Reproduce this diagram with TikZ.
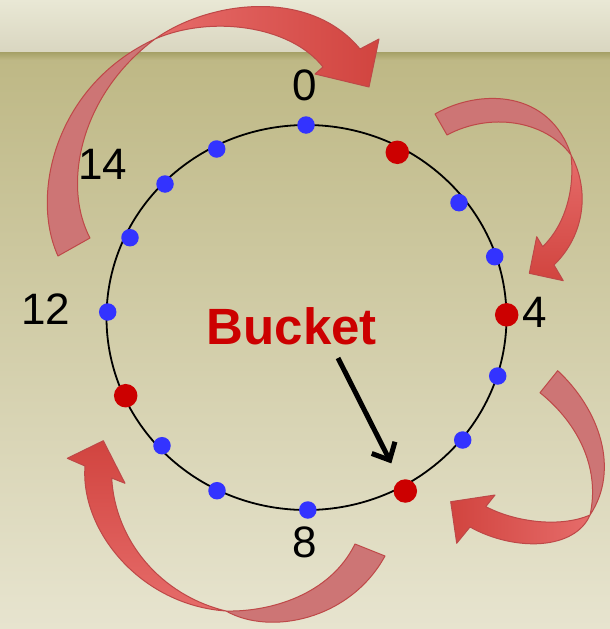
\documentclass[tikz,border=0pt]{standalone}
\usepackage{fontspec}
\setmainfont{Liberation Sans}
\usetikzlibrary{arrows.meta}
\definecolor{bgA}{RGB}{233,232,213}
\definecolor{bgB}{RGB}{217,214,192}
\definecolor{bandC}{RGB}{165,160,102}
\definecolor{bgC}{RGB}{190,184,133}
\definecolor{bgD}{RGB}{231,228,207}
\definecolor{dotblue}{RGB}{51,51,255}
\definecolor{dotred}{RGB}{204,0,0}
\definecolor{tailpink}{RGB}{205,117,117}
\definecolor{headlight}{RGB}{230,108,106}
\definecolor{headdark}{RGB}{209,68,63}
\definecolor{ribbonedge}{RGB}{190,72,72}
\tikzset{
  bdot/.style={circle, fill=dotblue, minimum size=17.5pt, inner sep=0pt},
  rdot/.style={circle, fill=dotred, minimum size=23.5pt, inner sep=0pt},
  lbl/.style={font=\fontsize{44}{50}\selectfont, inner sep=0pt},
  tailpart/.style={fill=tailpink, draw=ribbonedge, line width=1pt, line join=round},
  headpart/.style={draw=ribbonedge, line width=1pt, line join=round},
}
\begin{document}
\begin{tikzpicture}[x=1pt,y=-1pt]
\useasboundingbox (0,0) rectangle (610,629);
% background
\shade[top color=bgA, bottom color=bgB] (0,0) rectangle (610,53);
\shade[top color=bgC, bottom color=bgD] (0,57) rectangle (610,629);
\shade[top color=bandC, bottom color=bgC] (0,52) rectangle (610,60);
% ring
\draw[line width=1.8pt] (306.5,317.5) ellipse [x radius=200, y radius=192.5];
% dots
\node[bdot] (d0) at (306,125) {};
\node[rdot] (d1) at (397.3,152.3) {};
\node[bdot] (d2) at (459,202.7) {};
\node[bdot] (d3) at (494.7,256.7) {};
\node[rdot] (d4) at (506.7,314.8) {};
\node[bdot] (d5) at (497.7,376) {};
\node[bdot] (d6) at (462.7,440) {};
\node[rdot] (d7) at (405.3,491) {};
\node[bdot] (d8) at (307.8,510) {};
\node[bdot] (d9) at (217,490.7) {};
\node[bdot] (d10) at (162,445.7) {};
\node[rdot] (d11) at (125.7,395.7) {};
\node[bdot] (d12) at (107.7,312) {};
\node[bdot] (d13) at (130,237.7) {};
\node[bdot] (d14) at (165,184) {};
\node[bdot] (d15) at (216.7,149) {};
% arrow A (top-left)
\draw[tailpart] (155,39) .. controls (55,85) and (30,195) .. (58,256) -- (90,238)
  .. controls (62,185) and (80,95) .. (155,39) -- cycle;
\draw[headpart, left color=headlight, right color=headdark] (155,39) .. controls (210,0) and (310,-12) .. (360,49)
  -- (379,39) -- (369,87) -- (315,74) -- (323,67)
  .. controls (290,25) and (210,15) .. (155,39) -- cycle;
% arrow B (top-right)
\draw[tailpart] (435,114) .. controls (480,88) and (550,90) .. (571,155)
  .. controls (545,120) and (490,112) .. (447,135) -- cycle;
\draw[headpart, top color=headlight, bottom color=headdark] (571,155) .. controls (590,190) and (585,235) .. (554,265)
  -- (563.3,280.7) -- (529.3,273.3) -- (536.7,236.7) -- (542.7,246.7)
  .. controls (565,225) and (575,190) .. (571,155) -- cycle;
% arrow C (bottom-right)
\draw[tailpart] (557.7,370.7) .. controls (600,410) and (620,470) .. (590,515)
  .. controls (600,470) and (580,425) .. (540,392.7) -- cycle;
\draw[headpart, right color=headlight, left color=headdark] (590,515) .. controls (575,550) and (515,552) .. (470,527)
  -- (456.7,543.3) -- (450.7,501.7) -- (495,495) -- (485.8,506.6)
  .. controls (515,522) and (560,528) .. (590,515) -- cycle;
% arrow D (bottom-left)
\draw[tailpart] (226,611) .. controls (270,636) and (350,620) .. (385,556) -- (355,544)
  .. controls (330,595) and (270,612) .. (226,611) -- cycle;
\draw[headpart, bottom color=headlight, top color=headdark] (226,611) .. controls (140,605) and (80,530) .. (85,466)
  -- (67.3,458.3) -- (103.3,440.7) -- (125,483.3) -- (111.7,478)
  .. controls (115,540) and (160,595) .. (226,611) -- cycle;
% labels
\node[lbl] (l0) at (304.5,85) {0};
\node[lbl] (l14) at (102.5,164.5) {14};
\node[lbl] (l12) at (45.5,309.5) {12};
\node[lbl] (l4) at (535,312) {4};
\node[lbl] (l8) at (305,542.5) {8};
\node[font=\fontsize{51}{58}\selectfont\bfseries, text=dotred, inner sep=0pt] (bucket) at (291.7,326.7) {Bucket};
\coordinate (bstart) at (338,358);
\draw[line width=5pt, shorten >=19pt, -{Straight Barb[length=14pt,width=26pt]}] (bstart) -- (d7);
\end{tikzpicture}
\end{document}
